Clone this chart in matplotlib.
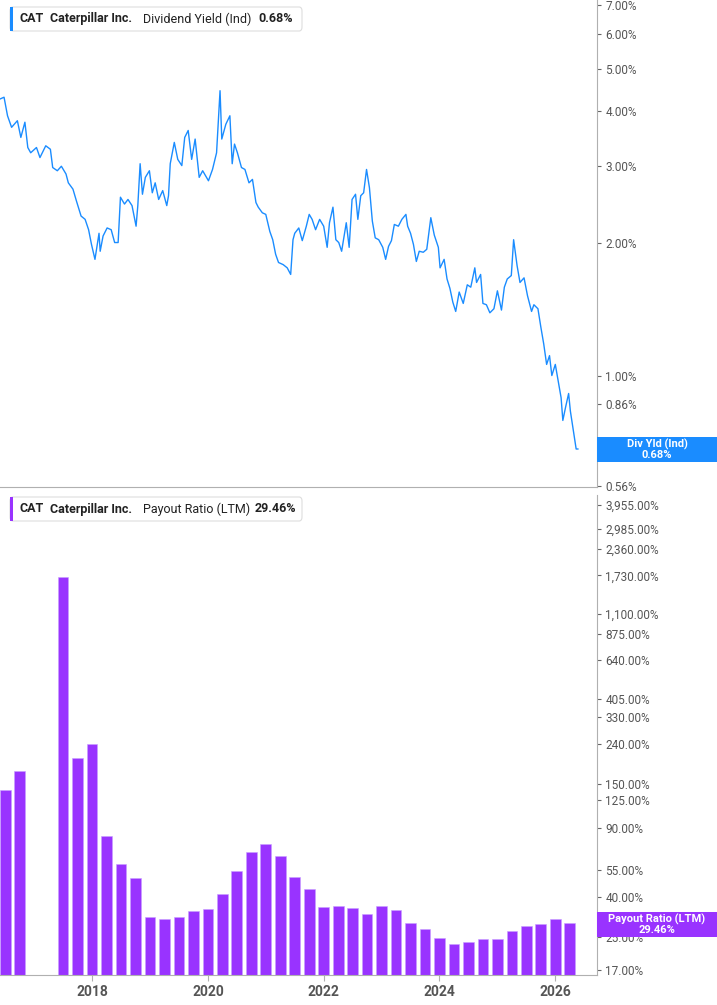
import numpy as np
import matplotlib
matplotlib.use('Agg')
import matplotlib.pyplot as plt
from matplotlib.ticker import FixedLocator, NullLocator
from matplotlib.patches import FancyBboxPatch, Rectangle

# dividend yield (%)
yld_years = [2016.41, 2016.48, 2016.54, 2016.61, 2016.71, 2016.77, 2016.84, 2016.89, 2016.94, 2017.04,
             2017.10, 2017.20, 2017.28, 2017.32, 2017.40, 2017.47, 2017.55, 2017.59, 2017.67, 2017.73,
             2017.81, 2017.88, 2017.94, 2017.99, 2018.05, 2018.12, 2018.14, 2018.19, 2018.26, 2018.33,
             2018.39, 2018.45, 2018.49, 2018.56, 2018.62, 2018.69, 2018.76, 2018.79, 2018.83, 2018.87,
             2018.92, 2018.99, 2019.04, 2019.09, 2019.15, 2019.22, 2019.29, 2019.32, 2019.35, 2019.42,
             2019.48, 2019.55, 2019.60, 2019.66, 2019.72, 2019.78, 2019.85, 2019.91, 2020.01, 2020.08,
             2020.15, 2020.21, 2020.24, 2020.31, 2020.38, 2020.42, 2020.46, 2020.51, 2020.58, 2020.64,
             2020.71, 2020.77, 2020.83, 2020.87, 2020.94, 2021.00, 2021.07, 2021.12, 2021.17, 2021.22,
             2021.30, 2021.37, 2021.43, 2021.47, 2021.50, 2021.57, 2021.63, 2021.70, 2021.75, 2021.80,
             2021.86, 2021.93, 2022.00, 2022.06, 2022.10, 2022.16, 2022.21, 2022.26, 2022.31, 2022.36,
             2022.39, 2022.44, 2022.49, 2022.55, 2022.59, 2022.64, 2022.69, 2022.74, 2022.79, 2022.84,
             2022.89, 2022.95, 2023.02, 2023.07, 2023.12, 2023.17, 2023.22, 2023.29, 2023.35, 2023.42,
             2023.45, 2023.50, 2023.55, 2023.60, 2023.65, 2023.72, 2023.78, 2023.85, 2023.91, 2023.98,
             2024.01, 2024.08, 2024.13, 2024.18, 2024.23, 2024.28, 2024.34, 2024.41, 2024.48, 2024.54,
             2024.61, 2024.64, 2024.71, 2024.75, 2024.81, 2024.87, 2024.94, 2025.00, 2025.07, 2025.12,
             2025.17, 2025.24, 2025.28, 2025.34, 2025.39, 2025.46, 2025.52, 2025.59, 2025.63, 2025.70,
             2025.75, 2025.80, 2025.85, 2025.90, 2025.94, 2026.00, 2026.05, 2026.10, 2026.13, 2026.18,
             2026.23, 2026.26, 2026.31, 2026.36, 2026.39]
yld_vals = [4.27, 4.31, 3.91, 3.68, 3.81, 3.49, 3.78, 3.31, 3.22, 3.31,
            3.14, 3.34, 3.28, 2.98, 2.93, 3.00, 2.88, 2.75, 2.66, 2.50,
            2.31, 2.27, 2.15, 1.99, 1.84, 2.11, 1.92, 2.08, 2.17, 2.15,
            2.01, 2.01, 2.55, 2.46, 2.52, 2.44, 2.19, 2.44, 3.04, 2.59,
            2.83, 2.93, 2.61, 2.75, 2.52, 2.64, 2.44, 2.57, 3.04, 3.40,
            3.11, 3.01, 3.49, 3.62, 3.11, 3.46, 2.83, 2.93, 2.78, 2.95,
            3.22, 4.46, 3.46, 3.74, 3.91, 3.04, 3.37, 3.22, 2.98, 2.95,
            2.75, 2.80, 2.48, 2.42, 2.35, 2.33, 2.13, 2.04, 1.89, 1.81,
            1.79, 1.76, 1.70, 2.04, 2.11, 2.17, 2.03, 2.19, 2.33, 2.27,
            2.15, 2.27, 2.19, 1.96, 2.23, 2.42, 2.04, 2.01, 1.92, 2.11,
            2.23, 1.96, 2.52, 2.59, 2.27, 2.57, 2.61, 2.95, 2.68, 2.25,
            2.06, 2.04, 1.96, 1.84, 1.97, 2.03, 2.21, 2.19, 2.27, 2.33,
            2.19, 2.11, 1.99, 1.82, 1.92, 1.91, 1.94, 2.29, 2.09, 1.96,
            1.76, 1.84, 1.66, 1.58, 1.47, 1.40, 1.55, 1.46, 1.61, 1.59,
            1.76, 1.63, 1.70, 1.46, 1.45, 1.39, 1.42, 1.56, 1.41, 1.59,
            1.66, 1.69, 2.04, 1.78, 1.63, 1.67, 1.52, 1.40, 1.45, 1.42,
            1.29, 1.18, 1.06, 1.11, 1.00, 1.06, 0.97, 0.89, 0.79, 0.85,
            0.91, 0.83, 0.75, 0.68, 0.68]

# payout ratio (LTM, %) quarterly
pay_years = [2016.5, 2016.75] + [2017.5 + 0.25 * i for i in range(36)]
pay_vals = [140, 175,
            1692, 204, 240, 82, 58.8, 49.8, 31.5, 30.8, 31.6, 33.9,
            34.7, 41.4, 54.2, 67.5, 74.1, 64.6, 50.5, 44.0, 35.5, 36.1,
            35.1, 32.6, 36.0, 34.3, 29.5, 27.5, 24.6, 22.9, 23.5, 24.4,
            24.3, 26.7, 28.4, 29.1, 30.8, 29.46]

yld_ticks = [7, 6, 5, 4, 3, 2, 1, 0.86, 0.56]
pay_ticks = [3955, 2985, 2360, 1730, 1100, 875, 640, 405, 330, 240, 150, 125, 90, 55, 40, 25, 17]
year_ticks = [2018, 2020, 2022, 2024, 2026]

BLUE = '#1a8cff'
PURPLE = '#9933ff'
GRID = '#b0b0b0'
TXT = '#555555'

plt.rcParams['font.family'] = ['Roboto', 'DejaVu Sans']
fig = plt.figure(figsize=(7.17, 10.05), dpi=100)
W, H = 717, 1005
axw = 597 / W
ax1 = fig.add_axes([0, 1 - 487 / H, axw, 487 / H])
ax2 = fig.add_axes([0, 1 - 975 / H, axw, 480 / H])


def style(ax, ticks, fmt):
    ax.set_yscale('log')
    ax.yaxis.tick_right()
    ax.yaxis.set_major_locator(FixedLocator(ticks))
    ax.yaxis.set_minor_locator(NullLocator())
    ax.set_yticklabels([fmt(t) for t in ticks])
    ax.tick_params(axis='y', length=3, color='#666666', labelsize=8.5, labelcolor=TXT, pad=3)
    for s in ['top', 'left']:
        ax.spines[s].set_visible(False)
    ax.spines['right'].set_color(GRID)
    ax.spines['bottom'].set_color(GRID)
    ax.set_xlim(2016.41, 2026.72)


style(ax1, yld_ticks, lambda t: f'{t:.2f}%')
ax1.plot(yld_years, yld_vals, color=BLUE, lw=1.0)
ax1.set_ylim(0.557, 7.18)
ax1.set_xticks([])

style(ax2, pay_ticks, lambda t: f'{t:,.2f}%')
ax2.bar(pay_years, pay_vals, width=0.185, color=PURPLE, edgecolor='#c9a0ff', linewidth=0.4, bottom=0.01)
ax2.set_ylim(16.0, 4440)
ax2.set_xticks(year_ticks)
ax2.set_xticklabels([str(y) for y in year_ticks])
ax2.tick_params(axis='x', length=4, color=GRID, labelsize=10, labelcolor=TXT)
for lab in ax2.get_xticklabels():
    lab.set_fontweight('bold')


def legend_box(y_px, color, parts):
    x0, w, h = 10 / W, 292 / W, 24 / H
    y0 = 1 - (y_px + 24) / H
    fig.patches.append(FancyBboxPatch((x0, y0), w, h, boxstyle='round,pad=0,rounding_size=0.004',
                                      transform=fig.transFigure, fc='white', ec='#dddddd', lw=0.8))
    fig.patches.append(Rectangle((x0, y0), 3 / W, h, transform=fig.transFigure, fc=color, ec='none'))
    x = 20
    for txt, bold, dx in parts:
        fig.text(x / W, y0 + h / 2, txt, fontsize=9, fontweight='bold' if bold else 'normal',
                 color='#222222', va='center', ha='left')
        x += dx


legend_box(7, BLUE, [('CAT', True, 30), ('Caterpillar Inc.', True, 93),
                     ('Dividend Yield (Ind)', False, 115), ('0.68%', True, 0)])
legend_box(497, PURPLE, [('CAT', True, 30), ('Caterpillar Inc.', True, 93),
                         ('Payout Ratio (LTM)', False, 112), ('29.46%', True, 0)])


def tag(y_px, color, lines):
    fig.patches.append(Rectangle((597 / W, 1 - (y_px + 25) / H), 120 / W, 25 / H,
                                 transform=fig.transFigure, fc=color, ec='none'))
    fig.text(657 / W, 1 - (y_px + 12.5) / H, lines, fontsize=8, fontweight='bold', color='white',
             ha='center', va='center', linespacing=1.0)


tag(437, BLUE, 'Div Yld (Ind)\n0.68%')
tag(912, PURPLE, 'Payout Ratio (LTM)\n29.46%')

fig.savefig('out.png', dpi=100)
